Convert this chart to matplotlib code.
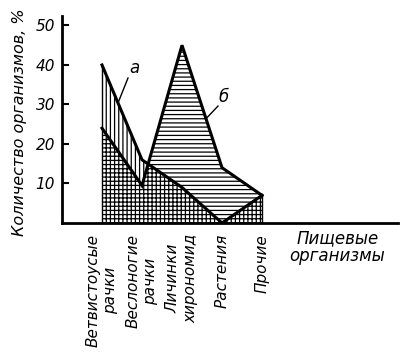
import numpy as np
import matplotlib
matplotlib.use('Agg')
from matplotlib import pyplot as plt

# пищевые организмы и доли, %
categories = ['Ветвистоусые\nрачки', 'Веслоногие\nрачки', 'Личинки\nхирономид',
              'Растения', 'Прочие']
series_a = [40, 16, 9, 0, 7]     # кривая а
series_b = [24, 9.5, 45, 14, 7]  # кривая б
yticks = [10, 20, 30, 40, 50]

plt.rcParams['font.family'] = ['DejaVu Sans']
plt.rcParams['font.style'] = 'italic'
plt.rcParams['hatch.linewidth'] = 0.9

x = np.arange(len(categories))
a = np.array(series_a, dtype=float)
b = np.array(series_b, dtype=float)

fig = plt.figure(figsize=(4.02, 3.54), dpi=100)
ax = fig.add_axes([62/402, 1-223/354, (398-62)/402, (223-16)/354])
ax.set_xlim(-1.0, 7.4)
ax.set_ylim(0, 52.4)

kw = dict(facecolor='white', edgecolor='black', linewidth=0, interpolate=True)
ax.fill_between(x, b, a, where=a >= b, hatch='||||', **kw)
ax.fill_between(x, a, b, where=b >= a, hatch='----', **kw)

# общая часть (под обеими кривыми) - клетка
cross = ax.fill_between(x, 0, a, hatch='++++', facecolor='white',
                        edgecolor='black', linewidth=0)
under_b = ax.fill_between(x, 0, b, facecolor='none', linewidth=0)
cross.set_clip_path(under_b.get_paths()[0], ax.transData)

ax.plot(x, a, color='black', lw=2.2, solid_joinstyle='miter')
ax.plot(x, b, color='black', lw=2.2, solid_joinstyle='miter')
ax.plot([x[0], x[0]], [0, a[0]], color='black', lw=1)
ax.plot([x[-1], x[-1]], [0, a[-1]], color='black', lw=1)

# подписи кривых
ax.plot([0.4, 0.65], [30.4, 36.7], color='black', lw=1)
ax.text(0.68, 37.0, 'а', fontsize=12, ha='left', va='bottom')
ax.plot([2.6, 2.9], [26.4, 29.6], color='black', lw=1)
ax.text(2.92, 29.5, 'б', fontsize=12, ha='left', va='bottom')

for s in ['top', 'right']:
    ax.spines[s].set_visible(False)
ax.spines['left'].set_linewidth(2)
ax.spines['bottom'].set_linewidth(2)

ax.set_yticks(yticks)
ax.set_yticklabels([str(v) for v in yticks], fontsize=11)
ax.tick_params(axis='y', direction='in', length=5, width=1.5, pad=5)

ax.set_xticks(x)
ax.set_xticklabels(categories, rotation=90, fontsize=11, va='top',
                   ha='center', multialignment='center')
ax.tick_params(axis='x', length=0, pad=8)

ax.text(0.82, -0.03, 'Пищевые\nорганизмы', transform=ax.transAxes,
        fontsize=12, ha='center', va='top', linespacing=1.0)

fig.text(20/402, 1-122/354, 'Количество организмов, %', rotation=90,
         fontsize=11.5, ha='center', va='center')

fig.savefig('out.png', dpi=100)
